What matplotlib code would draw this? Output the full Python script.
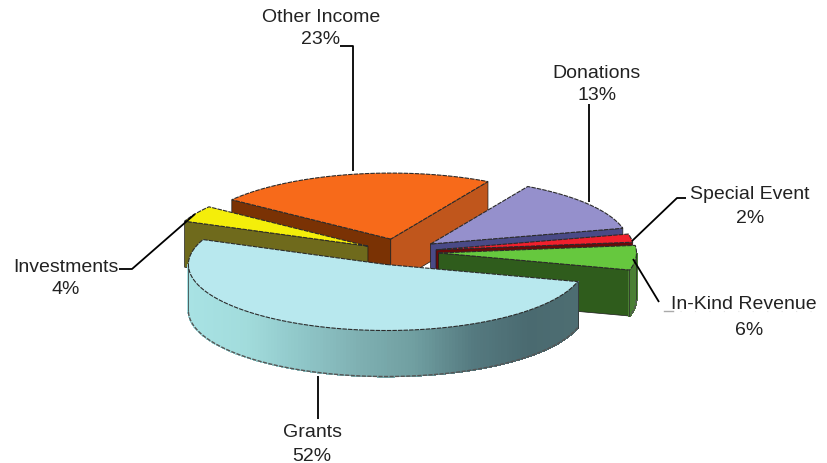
import numpy as np
import matplotlib
matplotlib.use("Agg")
import matplotlib.pyplot as plt
from matplotlib.colors import to_rgb
from matplotlib.patches import Polygon

# clockwise from the first angle
names = ["Grants", "Investments", "Other Income", "Donations", "Special Event", "In-Kind Revenue"]
shares = [52, 4, 23, 13, 2, 6]

first_angle = -15.0
explode = [0.2, 0.18, 0.2, 0.2, 0.19, 0.2]
cx, cy = 399.0, 253.0
rx, ry = 198.0, 66.0
depth = 46.0
edge = "#2b2b2b"

top_colors = ["#b8e8ee", "#f4ee0a", "#f76a1a", "#9590cc", "#f0202c", "#66c83e"]
start_walls = [None, "#6f6a1c", "#7a3204", None, None, None]
end_walls = [None, None, "#c0561c", "#4a4a86", "#6a0a0a", "#2f5c1c"]
arc_colors = [
    ["#a8e2e4", "#a2dcdc", "#8fc6c8", "#7fb0b2", "#6f9ea0", "#557a80", "#4a6a70", "#4e6e72"],
    ["#6f6a1c", "#6f6a1c"],
    ["#7a3204", "#7a3204"],
    ["#4a4a86", "#4a4a86"],
    ["#6a0a0a", "#6a0a0a"],
    ["#2f5c1c", "#4a8034"],
]
draw_order = [2, 1, 3, 4, 5, 0]

label_x = [312, 66, 321, 597, 750, 744]
label_y = [433, 268, 18, 74, 195, 305]
value_x = [312, 66, 321, 597, 750, 749]
value_y = [457, 290, 40, 96, 219, 331]

leaders = [
    ([318, 318], [377, 420]),
    ([195, 132, 119], [215, 270, 270]),
    ([353, 353, 340], [172, 47, 47]),
    ([589, 589], [203, 105]),
    ([632, 677, 686], [242, 199, 199]),
    ([633, 659], [260, 303]),
]

plt.rcParams["font.family"] = ["Liberation Sans", "DejaVu Sans"]

fig = plt.figure(figsize=(8.27, 4.64), dpi=100)
ax = fig.add_axes([0, 0, 1, 1])
ax.set_xlim(0, 827)
ax.set_ylim(464, 0)
ax.axis("off")


def rim(center, angles):
    a = np.radians(angles)
    return np.column_stack([center[0] + rx * np.cos(a), center[1] - ry * np.sin(a)])


def radial_wall(center, angle, color):
    p = rim(center, [angle])[0]
    pts = [center, p, (p[0], p[1] + depth), (center[0], center[1] + depth)]
    ax.add_patch(Polygon(pts, closed=True, fc=color, ec="#1a1a1a", lw=0.5))


def arc_wall(center, a0, a1, colors):
    # only the part facing the viewer, sin(angle) < 0
    angles = np.arange(a0, a1 - 1.0, -1.0)
    angles = angles[np.sin(np.radians(angles)) <= 0.0]
    if len(angles) < 2:
        return
    stops = np.array([to_rgb(c) for c in colors])
    t = np.linspace(0, 1, len(stops))
    pts = rim(center, angles)
    xmin, xmax = center[0] - rx, center[0] + rx
    for i in range(len(angles) - 1):
        u = (pts[i:i + 2, 0].mean() - xmin) / (xmax - xmin)
        col = [np.interp(u, t, stops[:, k]) for k in range(3)]
        quad = [pts[i], pts[i + 1], pts[i + 1] + [0, depth], pts[i] + [0, depth]]
        ax.add_patch(Polygon(quad, closed=True, fc=col, ec=col, lw=0.8, antialiased=False))
    ax.plot(pts[:, 0], pts[:, 1] + depth, color="#555555", lw=1.0, ls=(0, (3, 1)))
    ax.plot([pts[-1, 0], pts[-1, 0]], [pts[-1, 1], pts[-1, 1] + depth], color=edge, lw=0.5)
    ax.plot([pts[0, 0], pts[0, 0]], [pts[0, 1], pts[0, 1] + depth], color=edge, lw=0.5)


sweeps = np.array(shares) / sum(shares) * 360.0
ends = first_angle - np.cumsum(sweeps)
starts = ends + sweeps

for i in draw_order:
    mid = np.radians((starts[i] + ends[i]) / 2)
    center = np.array([cx + explode[i] * rx * np.cos(mid), cy - explode[i] * ry * np.sin(mid)])
    if start_walls[i]:
        radial_wall(center, starts[i], start_walls[i])
    if end_walls[i]:
        radial_wall(center, ends[i], end_walls[i])
    arc_wall(center, starts[i], ends[i], arc_colors[i])
    angles = np.linspace(starts[i], ends[i], 80)
    outline = np.vstack([center, rim(center, angles)])
    ax.add_patch(Polygon(outline, closed=True, fc=top_colors[i], ec=edge, lw=0.8, ls=(0, (4, 1))))

for xs, ys in leaders:
    ax.plot(xs, ys, color="black", lw=1.3, solid_capstyle="butt", zorder=3)

# faint remains under the In-Kind label
ax.plot([664, 673], [312, 312], color="#aaaaaa", lw=1)
ax.plot([680, 818], [312, 312], color="#e4e4e4", lw=0.8, ls=(0, (1, 12)))

for i, name in enumerate(names):
    ax.text(label_x[i], label_y[i], name, ha="center", va="center", fontsize=14, color="#222222", zorder=4)
    ax.text(value_x[i], value_y[i], f"{shares[i]}%", ha="center", va="center", fontsize=14, color="#222222", zorder=4)

fig.savefig("out.png", dpi=100)
